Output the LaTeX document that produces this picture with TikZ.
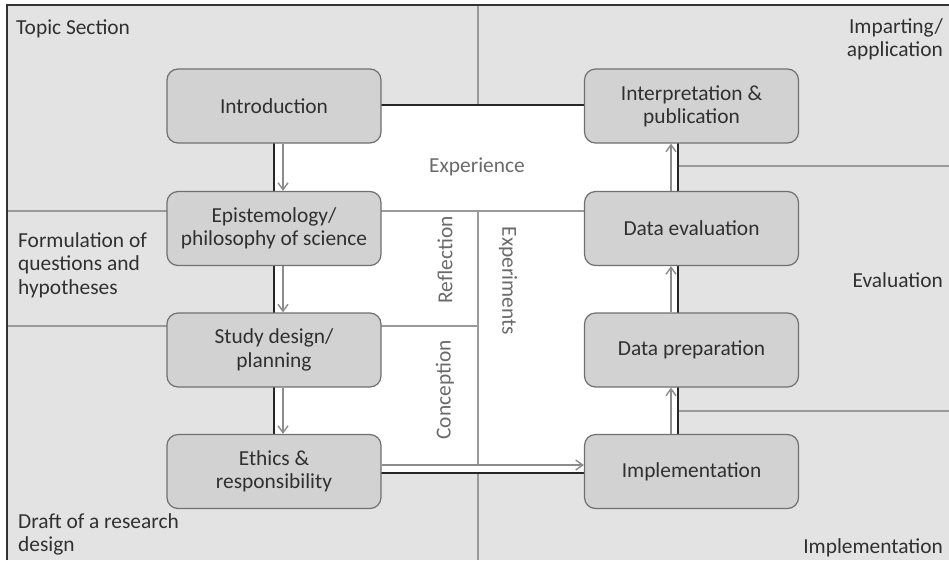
\documentclass[tikz,border=0pt]{standalone}
\usepackage{fontspec}
\setmainfont{Carlito}
\usetikzlibrary{arrows.meta}
\definecolor{bggray}{HTML}{E3E3E3}
\definecolor{boxgray}{HTML}{D2D2D2}
\definecolor{boxline}{HTML}{707070}
\definecolor{sepline}{HTML}{9A9A9A}
\definecolor{arrowgray}{HTML}{8C8C8C}
\definecolor{txt}{HTML}{303030}
\definecolor{midtxt}{HTML}{6A6A6A}
\begin{document}
\begin{tikzpicture}[x=1pt,y=-1pt,
  every node/.style={font=\fontsize{21.4}{23.3}\selectfont, text=txt},
  stepbox/.style={draw=boxline, line width=1.2pt, fill=boxgray, rounded corners=11pt, minimum width=214pt, minimum height=74pt, align=center, inner sep=0pt},
  sep/.style={draw=sepline, line width=1.2pt},
  frame/.style={draw=black!85, line width=2.4pt},
  flow/.style={draw=arrowgray, line width=1.4pt, -{Straight Barb[length=7pt,width=10pt]}},
  lbl/.style={inner sep=0pt},
  midlbl/.style={inner sep=0pt, text=midtxt}
]
\useasboundingbox (0,0) rectangle (949,560);
\fill[white] (0,0) rectangle (949,560);
\fill[bggray] (7,5) rectangle (949,560);
\fill[white] (274,105) rectangle (678,473);
% separators
\draw[sep] (7,211) -- (585,211);
\draw[sep] (7,326) -- (478,326);
\draw[sep] (678,166) -- (949,166);
\draw[sep] (678,411) -- (949,411);
\draw[sep] (478,5) -- (478,105);
\draw[sep] (478,211) -- (478,465);
\draw[sep] (478,473) -- (478,560);
% frame
\draw[frame] (274,105) rectangle (678,473);
\draw[line width=2pt, black!80] (7,560) -- (7,5) -- (949,5);
% boxes
\node[stepbox] (intro) at (274,106) {Introduction};
\node[stepbox] (epi) at (274,228.5) {Epistemology/\\philosophy of science};
\node[stepbox] (study) at (274,350) {Study design/\\planning};
\node[stepbox] (ethics) at (274,471.5) {Ethics \&\\responsibility};
\node[stepbox] (interp) at (691.5,106) {Interpretation \&\\publication};
\node[stepbox] (deval) at (691.5,228.5) {Data evaluation};
\node[stepbox] (dprep) at (691.5,350) {Data preparation};
\node[stepbox] (impl) at (691.5,471.5) {Implementation};
% arrows
\draw[flow] ([xshift=9pt]intro.south) -- ([xshift=9pt]epi.north);
\draw[flow] ([xshift=9pt]epi.south) -- ([xshift=9pt]study.north);
\draw[flow] ([xshift=9pt]study.south) -- ([xshift=9pt]ethics.north);
\draw[flow] ([yshift=6.5pt]ethics.east) -- ([yshift=6.5pt]impl.west);
\draw[flow] ([xshift=-20.5pt]impl.north) -- ([xshift=-20.5pt]dprep.south);
\draw[flow] ([xshift=-20.5pt]dprep.north) -- ([xshift=-20.5pt]deval.south);
\draw[flow] ([xshift=-20.5pt]deval.north) -- ([xshift=-20.5pt]interp.south);
% labels
\node[lbl, anchor=base west] (topic) at (16,34) {Topic Section};
\node[lbl, anchor=base east, align=right] (impart) at (943,56.5) {Imparting/\\application};
\node[lbl, anchor=base west, align=left] (formul) at (18,294) {Formulation of\\questions and\\hypotheses};
\node[lbl, anchor=base east] (evalu) at (943,287) {Evaluation};
\node[lbl, anchor=base west, align=left] (draft) at (18,551.5) {Draft of a research\\design};
\node[lbl, anchor=base east] (implab) at (943,553) {Implementation};
\node[midlbl] (exper) at (477,167) {Experience};
\node[midlbl, rotate=90] (refl) at (445,260) {Reflection};
\node[midlbl, rotate=90] (conc) at (445,390) {Conception};
\node[midlbl, rotate=-90] (expts) at (508,281) {Experiments};
\end{tikzpicture}
\end{document}
